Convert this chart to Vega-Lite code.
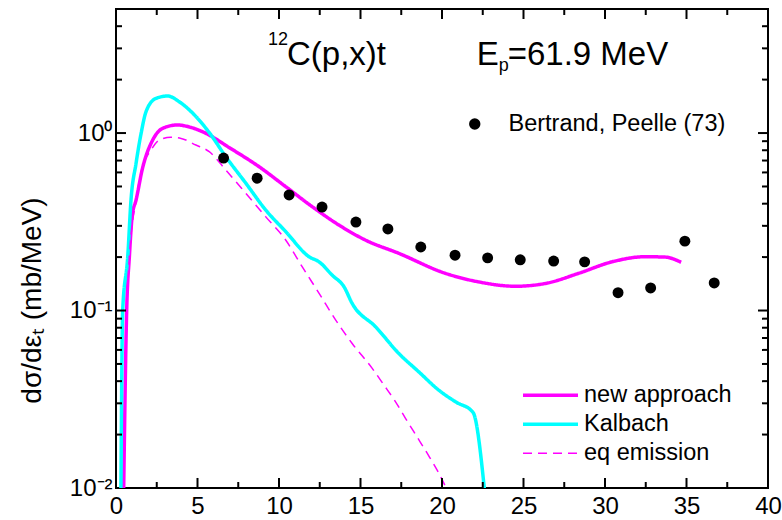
{
  "$schema": "https://vega.github.io/schema/vega-lite/v6.json",
  "width": 652,
  "height": 479,
  "autosize": {"type": "none"},
  "padding": {"left": 116, "top": 9, "right": 14, "bottom": 32},
  "background": "white",
  "datasets": {
    "xt": [
      {"v": 2.5, "kind": "minor"}, {"v": 5, "kind": "major"}, {"v": 7.5, "kind": "minor"}, {"v": 10, "kind": "major"},
      {"v": 12.5, "kind": "minor"}, {"v": 15, "kind": "major"}, {"v": 17.5, "kind": "minor"}, {"v": 20, "kind": "major"},
      {"v": 22.5, "kind": "minor"}, {"v": 25, "kind": "major"}, {"v": 27.5, "kind": "minor"}, {"v": 30, "kind": "major"},
      {"v": 32.5, "kind": "minor"}, {"v": 35, "kind": "major"}, {"v": 37.5, "kind": "minor"}
    ],
    "yt": [
      {"v": 0.02, "kind": "minor"}, {"v": 0.03, "kind": "minor"}, {"v": 0.04, "kind": "minor"}, {"v": 0.05, "kind": "minor"},
      {"v": 0.06, "kind": "minor"}, {"v": 0.07, "kind": "minor"}, {"v": 0.08, "kind": "minor"}, {"v": 0.09, "kind": "minor"},
      {"v": 0.1, "kind": "major"},
      {"v": 0.2, "kind": "minor"}, {"v": 0.3, "kind": "minor"}, {"v": 0.4, "kind": "minor"}, {"v": 0.5, "kind": "minor"},
      {"v": 0.6, "kind": "minor"}, {"v": 0.7, "kind": "minor"}, {"v": 0.8, "kind": "minor"}, {"v": 0.9, "kind": "minor"},
      {"v": 1, "kind": "major"},
      {"v": 2, "kind": "minor"}, {"v": 3, "kind": "minor"}, {"v": 4, "kind": "minor"}
    ]
  },
  "config": {
    "view": {"stroke": "black", "strokeWidth": 2},
    "font": "Liberation Sans",
    "axis": {
      "domain": false,
      "ticks": false,
      "grid": false,
      "labelFont": "Liberation Sans",
      "labelFontSize": 24,
      "labelColor": "black",
      "labelOverlap": false,
      "titleFont": "Liberation Sans",
      "titleColor": "black",
      "titleFontWeight": "normal"
    },
    "rule": {"color": "black", "strokeWidth": 2},
    "legend": {
      "labelFont": "Liberation Sans",
      "labelFontSize": 23.5,
      "labelColor": "black",
      "labelLimit": 0,
      "padding": 0,
      "rowPadding": 0
    }
  },
  "layer": [
    {
      "data": {
        "values": [
          {"model": "new approach", "E": 0.47, "sigma": 0.0098},
          {"model": "new approach", "E": 0.655, "sigma": 0.1},
          {"model": "new approach", "E": 0.82, "sigma": 0.201},
          {"model": "new approach", "E": 1.0, "sigma": 0.345},
          {"model": "new approach", "E": 1.23, "sigma": 0.419},
          {"model": "new approach", "E": 1.63, "sigma": 0.635},
          {"model": "new approach", "E": 2.25, "sigma": 0.913},
          {"model": "new approach", "E": 2.86, "sigma": 1.063},
          {"model": "new approach", "E": 3.76, "sigma": 1.11},
          {"model": "new approach", "E": 4.62, "sigma": 1.074},
          {"model": "new approach", "E": 5.52, "sigma": 0.996},
          {"model": "new approach", "E": 6.94, "sigma": 0.829},
          {"model": "new approach", "E": 8.78, "sigma": 0.646},
          {"model": "new approach", "E": 10.42, "sigma": 0.498},
          {"model": "new approach", "E": 12.05, "sigma": 0.384},
          {"model": "new approach", "E": 13.68, "sigma": 0.303},
          {"model": "new approach", "E": 15.32, "sigma": 0.249},
          {"model": "new approach", "E": 17.35, "sigma": 0.21},
          {"model": "new approach", "E": 20.21, "sigma": 0.162},
          {"model": "new approach", "E": 22.25, "sigma": 0.145},
          {"model": "new approach", "E": 24.5, "sigma": 0.137},
          {"model": "new approach", "E": 26.34, "sigma": 0.142},
          {"model": "new approach", "E": 28.38, "sigma": 0.162},
          {"model": "new approach", "E": 30.42, "sigma": 0.188},
          {"model": "new approach", "E": 32.46, "sigma": 0.201},
          {"model": "new approach", "E": 33.69, "sigma": 0.2},
          {"model": "new approach", "E": 34.67, "sigma": 0.187},
          {"model": "Kalbach", "E": 0.3, "sigma": 0.0095},
          {"model": "Kalbach", "E": 0.41, "sigma": 0.1},
          {"model": "Kalbach", "E": 0.72, "sigma": 0.201},
          {"model": "Kalbach", "E": 0.92, "sigma": 0.419},
          {"model": "Kalbach", "E": 1.23, "sigma": 0.675},
          {"model": "Kalbach", "E": 1.54, "sigma": 0.996},
          {"model": "Kalbach", "E": 1.84, "sigma": 1.318},
          {"model": "Kalbach", "E": 2.46, "sigma": 1.569},
          {"model": "Kalbach", "E": 3.17, "sigma": 1.617},
          {"model": "Kalbach", "E": 3.88, "sigma": 1.501},
          {"model": "Kalbach", "E": 4.7, "sigma": 1.296},
          {"model": "Kalbach", "E": 5.72, "sigma": 1.006},
          {"model": "Kalbach", "E": 6.74, "sigma": 0.735},
          {"model": "Kalbach", "E": 7.97, "sigma": 0.521},
          {"model": "Kalbach", "E": 9.19, "sigma": 0.368},
          {"model": "Kalbach", "E": 10.42, "sigma": 0.278},
          {"model": "Kalbach", "E": 11.84, "sigma": 0.201},
          {"model": "Kalbach", "E": 12.46, "sigma": 0.188},
          {"model": "Kalbach", "E": 13.27, "sigma": 0.158},
          {"model": "Kalbach", "E": 13.99, "sigma": 0.136},
          {"model": "Kalbach", "E": 14.49, "sigma": 0.1096},
          {"model": "Kalbach", "E": 15.93, "sigma": 0.0809},
          {"model": "Kalbach", "E": 17.35, "sigma": 0.0573},
          {"model": "Kalbach", "E": 18.58, "sigma": 0.0451},
          {"model": "Kalbach", "E": 19.8, "sigma": 0.0356},
          {"model": "Kalbach", "E": 20.83, "sigma": 0.0306},
          {"model": "Kalbach", "E": 21.9, "sigma": 0.0267},
          {"model": "Kalbach", "E": 22.62, "sigma": 0.0095},
          {"model": "eq emission", "E": 0.47, "sigma": 0.0098},
          {"model": "eq emission", "E": 0.655, "sigma": 0.1},
          {"model": "eq emission", "E": 0.82, "sigma": 0.201},
          {"model": "eq emission", "E": 1.23, "sigma": 0.419},
          {"model": "eq emission", "E": 1.63, "sigma": 0.646},
          {"model": "eq emission", "E": 2.15, "sigma": 0.802},
          {"model": "eq emission", "E": 2.66, "sigma": 0.913},
          {"model": "eq emission", "E": 3.37, "sigma": 0.946},
          {"model": "eq emission", "E": 3.99, "sigma": 0.933},
          {"model": "eq emission", "E": 4.9, "sigma": 0.856},
          {"model": "eq emission", "E": 5.72, "sigma": 0.785},
          {"model": "eq emission", "E": 6.74, "sigma": 0.619},
          {"model": "eq emission", "E": 7.97, "sigma": 0.457},
          {"model": "eq emission", "E": 9.19, "sigma": 0.337},
          {"model": "eq emission", "E": 10.42, "sigma": 0.249},
          {"model": "eq emission", "E": 11.43, "sigma": 0.176},
          {"model": "eq emission", "E": 12.46, "sigma": 0.125},
          {"model": "eq emission", "E": 13.48, "sigma": 0.0883},
          {"model": "eq emission", "E": 14.49, "sigma": 0.0652},
          {"model": "eq emission", "E": 15.72, "sigma": 0.0472},
          {"model": "eq emission", "E": 16.44, "sigma": 0.038},
          {"model": "eq emission", "E": 17.15, "sigma": 0.0306},
          {"model": "eq emission", "E": 17.76, "sigma": 0.0247},
          {"model": "eq emission", "E": 18.47, "sigma": 0.0194},
          {"model": "eq emission", "E": 19.09, "sigma": 0.0157},
          {"model": "eq emission", "E": 19.81, "sigma": 0.0121},
          {"model": "eq emission", "E": 20.3, "sigma": 0.0098}
        ]
      },
      "mark": {"type": "line", "interpolate": "monotone", "clip": true},
      "encoding": {
        "x": {
          "field": "E", "type": "quantitative",
          "scale": {"domain": [0, 40], "nice": false, "zero": false},
          "axis": {
            "orient": "bottom",
            "values": [0, 5, 10, 15, 20, 25, 30, 35, 40],
            "labelPadding": 6,
            "labelFlush": false,
            "title": null
          }
        },
        "y": {
          "field": "sigma", "type": "quantitative",
          "scale": {"type": "log", "domain": [0.01, 5], "nice": false},
          "axis": {
            "orient": "left",
            "values": [0.01, 0.1, 1],
            "labelExpr": "datum.value === 1 ? '10⁰' : datum.value === 0.1 ? '10⁻¹' : '10⁻²'",
            "labelPadding": 4,
            "title": "dσ/dεₜ (mb/MeV)",
            "titleFontSize": 28,
            "titleX": -84,
            "titleY": 291,
            "titleAngle": -90,
            "titleAlign": "center",
            "titleBaseline": "middle"
          }
        },
        "color": {
          "field": "model", "type": "nominal",
          "scale": {"domain": ["new approach", "Kalbach", "eq emission"], "range": ["#ff00ff", "#00ffff", "#ff00ff"]},
          "legend": {"orient": "none", "legendX": 405, "legendY": 372, "title": null, "symbolType": "stroke", "symbolSize": 3025, "labelOffset": 4, "clipHeight": 28.5}
        },
        "strokeDash": {
          "field": "model", "type": "nominal",
          "scale": {"domain": ["new approach", "Kalbach", "eq emission"], "range": [[1, 0], [1, 0], [9, 6]]},
          "legend": {"orient": "none", "legendX": 405, "legendY": 372, "title": null, "symbolType": "stroke", "symbolSize": 3025, "labelOffset": 4, "clipHeight": 28.5}
        },
        "strokeWidth": {
          "field": "model", "type": "ordinal",
          "scale": {"type": "ordinal", "domain": ["new approach", "Kalbach", "eq emission"], "range": [3.5, 3.5, 1.5]},
          "legend": {"orient": "none", "legendX": 405, "legendY": 372, "title": null, "symbolType": "stroke", "symbolSize": 3025, "labelOffset": 4, "clipHeight": 28.5}
        }
      }
    },
    {
      "data": {
        "values": [
          {"source": "Bertrand, Peelle (73)", "E": 6.6, "sigma": 0.723},
          {"source": "Bertrand, Peelle (73)", "E": 8.66, "sigma": 0.557},
          {"source": "Bertrand, Peelle (73)", "E": 10.62, "sigma": 0.448},
          {"source": "Bertrand, Peelle (73)", "E": 12.64, "sigma": 0.383},
          {"source": "Bertrand, Peelle (73)", "E": 14.72, "sigma": 0.315},
          {"source": "Bertrand, Peelle (73)", "E": 16.68, "sigma": 0.288},
          {"source": "Bertrand, Peelle (73)", "E": 18.7, "sigma": 0.228},
          {"source": "Bertrand, Peelle (73)", "E": 20.8, "sigma": 0.205},
          {"source": "Bertrand, Peelle (73)", "E": 22.8, "sigma": 0.198},
          {"source": "Bertrand, Peelle (73)", "E": 24.8, "sigma": 0.193},
          {"source": "Bertrand, Peelle (73)", "E": 26.85, "sigma": 0.19},
          {"source": "Bertrand, Peelle (73)", "E": 28.75, "sigma": 0.188},
          {"source": "Bertrand, Peelle (73)", "E": 30.8, "sigma": 0.126},
          {"source": "Bertrand, Peelle (73)", "E": 32.8, "sigma": 0.134},
          {"source": "Bertrand, Peelle (73)", "E": 34.9, "sigma": 0.246},
          {"source": "Bertrand, Peelle (73)", "E": 36.7, "sigma": 0.143}
        ]
      },
      "mark": {"type": "point", "filled": true, "color": "black", "size": 120, "opacity": 1},
      "encoding": {
        "x": {"field": "E", "type": "quantitative", "scale": {"domain": [0, 40], "nice": false, "zero": false}, "axis": null},
        "y": {"field": "sigma", "type": "quantitative", "scale": {"type": "log", "domain": [0.01, 5], "nice": false}, "axis": null},
        "shape": {
          "field": "source", "type": "nominal",
          "scale": {"range": ["circle"]},
          "legend": {"orient": "none", "legendX": 347, "legendY": 103, "title": null, "symbolSize": 130, "symbolFillColor": "black", "symbolStrokeColor": "black", "labelOffset": 22, "clipHeight": 24}
        }
      }
    },
    {
      "data": {"name": "xt"},
      "transform": [{"filter": "datum.kind === 'major'"}],
      "mark": {"type": "rule", "color": "black", "strokeWidth": 2},
      "encoding": {
        "x": {"field": "v", "type": "quantitative", "axis": null},
        "y": {"datum": 0.01, "type": "quantitative", "axis": null},
        "y2": {"datum": 0.01139}
      }
    },
    {
      "data": {"name": "xt"},
      "transform": [{"filter": "datum.kind === 'minor'"}],
      "mark": {"type": "rule", "color": "black", "strokeWidth": 2},
      "encoding": {
        "x": {"field": "v", "type": "quantitative", "axis": null},
        "y": {"datum": 0.01, "type": "quantitative", "axis": null},
        "y2": {"datum": 0.01081}
      }
    },
    {
      "data": {"name": "xt"},
      "transform": [{"filter": "datum.kind === 'major'"}],
      "mark": {"type": "rule", "color": "black", "strokeWidth": 2},
      "encoding": {
        "x": {"field": "v", "type": "quantitative", "axis": null},
        "y": {"datum": 5, "type": "quantitative", "axis": null},
        "y2": {"datum": 4.39}
      }
    },
    {
      "data": {"name": "xt"},
      "transform": [{"filter": "datum.kind === 'minor'"}],
      "mark": {"type": "rule", "color": "black", "strokeWidth": 2},
      "encoding": {
        "x": {"field": "v", "type": "quantitative", "axis": null},
        "y": {"datum": 5, "type": "quantitative", "axis": null},
        "y2": {"datum": 4.625}
      }
    },
    {
      "data": {"name": "yt"},
      "transform": [{"filter": "datum.kind === 'major'"}],
      "mark": {"type": "rule", "color": "black", "strokeWidth": 2},
      "encoding": {
        "y": {"field": "v", "type": "quantitative", "axis": null},
        "x": {"datum": 0, "type": "quantitative", "axis": null},
        "x2": {"datum": 0.613}
      }
    },
    {
      "data": {"name": "yt"},
      "transform": [{"filter": "datum.kind === 'minor'"}],
      "mark": {"type": "rule", "color": "black", "strokeWidth": 2},
      "encoding": {
        "y": {"field": "v", "type": "quantitative", "axis": null},
        "x": {"datum": 0, "type": "quantitative", "axis": null},
        "x2": {"datum": 0.368}
      }
    },
    {
      "data": {"name": "yt"},
      "transform": [{"filter": "datum.kind === 'major'"}],
      "mark": {"type": "rule", "color": "black", "strokeWidth": 2},
      "encoding": {
        "y": {"field": "v", "type": "quantitative", "axis": null},
        "x": {"datum": 40, "type": "quantitative", "axis": null},
        "x2": {"datum": 39.387}
      }
    },
    {
      "data": {"name": "yt"},
      "transform": [{"filter": "datum.kind === 'minor'"}],
      "mark": {"type": "rule", "color": "black", "strokeWidth": 2},
      "encoding": {
        "y": {"field": "v", "type": "quantitative", "axis": null},
        "x": {"datum": 40, "type": "quantitative", "axis": null},
        "x2": {"datum": 39.632}
      }
    },
    {
      "data": {
        "values": [
          {"t": "C(p,x)t", "E": 10.49, "sigma": 2.417},
          {"t": "E", "E": 22.13, "sigma": 2.417},
          {"t": "=61.9 MeV", "E": 24.03, "sigma": 2.417}
        ]
      },
      "mark": {"type": "text", "align": "left", "baseline": "alphabetic", "fontSize": 33, "font": "Liberation Sans", "color": "black"},
      "encoding": {
        "x": {"field": "E", "type": "quantitative", "axis": null},
        "y": {"field": "sigma", "type": "quantitative", "axis": null},
        "text": {"field": "t"}
      }
    },
    {
      "data": {
        "values": [
          {"t": "12", "E": 9.33, "sigma": 3.13},
          {"t": "p", "E": 23.48, "sigma": 2.237}
        ]
      },
      "mark": {"type": "text", "align": "left", "baseline": "alphabetic", "fontSize": 18, "font": "Liberation Sans", "color": "black"},
      "encoding": {
        "x": {"field": "E", "type": "quantitative", "axis": null},
        "y": {"field": "sigma", "type": "quantitative", "axis": null},
        "text": {"field": "t"}
      }
    }
  ],
  "resolve": {"axis": {"x": "independent", "y": "independent"}}
}
